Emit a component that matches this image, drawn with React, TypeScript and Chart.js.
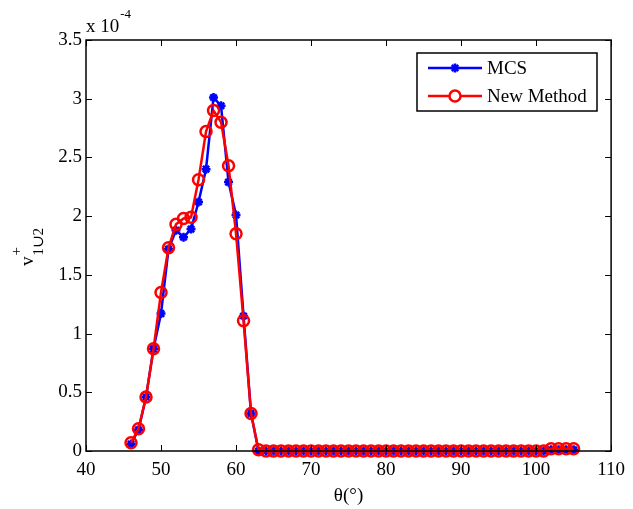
import React, { useEffect, useRef } from "react";
import { Chart, registerables } from "chart.js";

Chart.register(...registerables);

// theta (degrees)
const thetaValues: number[] = [
  46, 47, 48, 49, 50, 51, 52, 53, 54, 55, 56, 57, 58, 59, 60, 61, 62, 63,
  64, 65, 66, 67, 68, 69, 70, 71, 72, 73, 74, 75, 76, 77, 78, 79, 80, 81, 82, 83, 84,
  85, 86, 87, 88, 89, 90, 91, 92, 93, 94, 95, 96, 97, 98, 99, 100, 101, 102, 103, 104, 105,
];

// values in units of 1e-4
const mcsValues: number[] = [
  0.06, 0.18, 0.46, 0.87, 1.17, 1.72, 1.88, 1.82, 1.89, 2.12, 2.4, 3.01, 2.94, 2.29, 2.01, 1.15, 0.32, 0.0,
  0, 0, 0, 0, 0, 0, 0, 0, 0, 0, 0, 0, 0, 0, 0, 0, 0, 0, 0, 0, 0,
  0, 0, 0, 0, 0, 0, 0, 0, 0, 0, 0, 0, 0, 0, 0, 0, 0, 0.01, 0.01, 0.01, 0.01,
];

const newMethodValues: number[] = [
  0.07, 0.19, 0.46, 0.87, 1.35, 1.73, 1.93, 1.98, 1.99, 2.31, 2.72, 2.9, 2.8, 2.43, 1.85, 1.11, 0.32, 0.01,
  0, 0, 0, 0, 0, 0, 0, 0, 0, 0, 0, 0, 0, 0, 0, 0, 0, 0, 0, 0, 0,
  0, 0, 0, 0, 0, 0, 0, 0, 0, 0, 0, 0, 0, 0, 0, 0, 0, 0.02, 0.02, 0.02, 0.02,
];

const xTicks: number[] = [40, 50, 60, 70, 80, 90, 100, 110];
const yTicks: number[] = [0, 0.5, 1, 1.5, 2, 2.5, 3, 3.5];
const seriesNames: string[] = ["MCS", "New Method"];
const exponentLabel = "-4";
const xAxisTitle = "\u03b8(\u00b0)";

const W = 633;
const H = 509;
const FONT = '"Liberation Serif", "Times New Roman", "DejaVu Serif", serif';
const BLUE = "#0000ff";
const RED = "#ff0000";

function drawStar(ctx: CanvasRenderingContext2D, x: number, y: number, r: number) {
  ctx.beginPath();
  ctx.moveTo(x - r, y);
  ctx.lineTo(x + r, y);
  ctx.moveTo(x, y - r);
  ctx.lineTo(x, y + r);
  const d = r * Math.SQRT1_2;
  ctx.moveTo(x - d, y - d);
  ctx.lineTo(x + d, y + d);
  ctx.moveTo(x - d, y + d);
  ctx.lineTo(x + d, y - d);
  ctx.stroke();
}

export default function App() {
  const ref = useRef<HTMLCanvasElement | null>(null);

  useEffect(() => {
    const canvas = ref.current;
    if (!canvas) return;

    const decor = {
      id: "decor",
      afterDatasetsDraw(chart: any) {
        const ctx: CanvasRenderingContext2D = chart.ctx;
        const { left, right, top, bottom } = chart.chartArea;
        const xs = chart.scales.x;
        const ys = chart.scales.y;
        ctx.save();
        ctx.strokeStyle = "#000";
        ctx.lineWidth = 1.5;
        ctx.strokeRect(left, top, right - left, bottom - top);
        ctx.lineWidth = 1;
        const tl = 6;
        ctx.beginPath();
        xTicks.forEach((v) => {
          const px = Math.round(xs.getPixelForValue(v)) + 0.5;
          ctx.moveTo(px, bottom);
          ctx.lineTo(px, bottom - tl);
          ctx.moveTo(px, top);
          ctx.lineTo(px, top + tl);
        });
        yTicks.forEach((v) => {
          const py = Math.round(ys.getPixelForValue(v)) + 0.5;
          ctx.moveTo(left, py);
          ctx.lineTo(left + tl, py);
          ctx.moveTo(right, py);
          ctx.lineTo(right - tl, py);
        });
        ctx.stroke();

        // exponent label
        ctx.fillStyle = "#000";
        ctx.textBaseline = "alphabetic";
        ctx.textAlign = "left";
        ctx.font = `19px ${FONT}`;
        ctx.fillText("x 10", left, 32);
        const w10 = ctx.measureText("x 10").width;
        ctx.font = `13px ${FONT}`;
        ctx.fillText(exponentLabel, left + w10 + 1, 18);

        // x axis title
        ctx.font = `19px ${FONT}`;
        ctx.textAlign = "center";
        ctx.fillText(xAxisTitle, (left + right) / 2, 501);

        // y axis title (rotated)
        ctx.save();
        ctx.translate(33, 266);
        ctx.rotate(-Math.PI / 2);
        ctx.textAlign = "left";
        ctx.font = `19px ${FONT}`;
        ctx.fillText("v", 0, 0);
        const vw = ctx.measureText("v").width;
        ctx.font = `15px ${FONT}`;
        ctx.fillText("+", vw + 1, -12);
        ctx.fillText("1\u222a2", vw + 1, 9.5);
        ctx.restore();

        // legend
        const lx = 417, ly = 53, lw = 180, lh = 58;
        ctx.fillStyle = "#fff";
        ctx.fillRect(lx, ly, lw, lh);
        ctx.strokeStyle = "#000";
        ctx.lineWidth = 1.5;
        ctx.strokeRect(lx, ly, lw, lh);
        const rows = [
          { y: 68, color: BLUE },
          { y: 96, color: RED },
        ];
        rows.forEach((r, i) => {
          ctx.strokeStyle = r.color;
          ctx.lineWidth = 2.5;
          ctx.beginPath();
          ctx.moveTo(428, r.y);
          ctx.lineTo(482, r.y);
          ctx.stroke();
          if (i === 0) {
            drawStar(ctx, 455, r.y, 4.5);
          } else {
            ctx.beginPath();
            ctx.arc(455, r.y, 5.5, 0, Math.PI * 2);
            ctx.fillStyle = "#fff";
            ctx.fill();
            ctx.stroke();
          }
          ctx.fillStyle = "#000";
          ctx.font = `19px ${FONT}`;
          ctx.textAlign = "left";
          ctx.textBaseline = "middle";
          ctx.fillText(seriesNames[i], 487, r.y + 1);
        });
        ctx.restore();
      },
    };

    const chart = new Chart(canvas, {
      type: "line",
      data: {
        datasets: [
          {
            label: seriesNames[0],
            data: thetaValues.map((t, i) => ({ x: t, y: mcsValues[i] })),
            borderColor: BLUE,
            backgroundColor: BLUE,
            borderWidth: 2.5,
            pointStyle: "star",
            pointRadius: 4.5,
            pointBorderWidth: 2.5,
            pointBorderColor: BLUE,
            pointBackgroundColor: BLUE,
            tension: 0,
            clip: false as any,
            order: 2,
          },
          {
            label: seriesNames[1],
            data: thetaValues.map((t, i) => ({ x: t, y: newMethodValues[i] })),
            borderColor: RED,
            backgroundColor: "rgba(0,0,0,0)",
            borderWidth: 2.5,
            pointStyle: "circle",
            pointRadius: 5.5,
            pointBorderWidth: 2.5,
            pointBorderColor: RED,
            pointBackgroundColor: "rgba(0,0,0,0)",
            tension: 0,
            clip: false as any,
            order: 1,
          },
        ],
      },
      options: {
        animation: false,
        responsive: false,
        devicePixelRatio: 1,
        layout: { padding: { top: 40, right: 16, left: 0, bottom: 0 } },
        plugins: { legend: { display: false }, tooltip: { enabled: false } },
        scales: {
          x: {
            type: "linear",
            min: 40,
            max: 110,
            afterBuildTicks: (scale: any) => {
              scale.ticks = xTicks.map((v) => ({ value: v }));
            },
            afterFit: (scale: any) => {
              scale.height = 58;
            },
            ticks: {
              color: "#000",
              font: { family: FONT, size: 19 },
              padding: 8,
              maxRotation: 0,
              autoSkip: false,
            },
            grid: { display: false, drawTicks: false },
            border: { display: false },
          },
          y: {
            type: "linear",
            min: 0,
            max: 3.5,
            afterBuildTicks: (scale: any) => {
              scale.ticks = yTicks.map((v) => ({ value: v }));
            },
            afterFit: (scale: any) => {
              scale.width = 86;
            },
            ticks: {
              color: "#000",
              font: { family: FONT, size: 19 },
              padding: 4,
              autoSkip: false,
              callback: (v: any) => String(v),
            },
            grid: { display: false, drawTicks: false },
            border: { display: false },
          },
        },
      },
      plugins: [decor],
    });

    return () => chart.destroy();
  }, []);

  return (
    <div style={{ position: "absolute", left: 0, top: 0, width: W, height: H, background: "#fff" }}>
      <canvas ref={ref} width={W} height={H} style={{ width: W, height: H, display: "block" }} />
    </div>
  );
}
